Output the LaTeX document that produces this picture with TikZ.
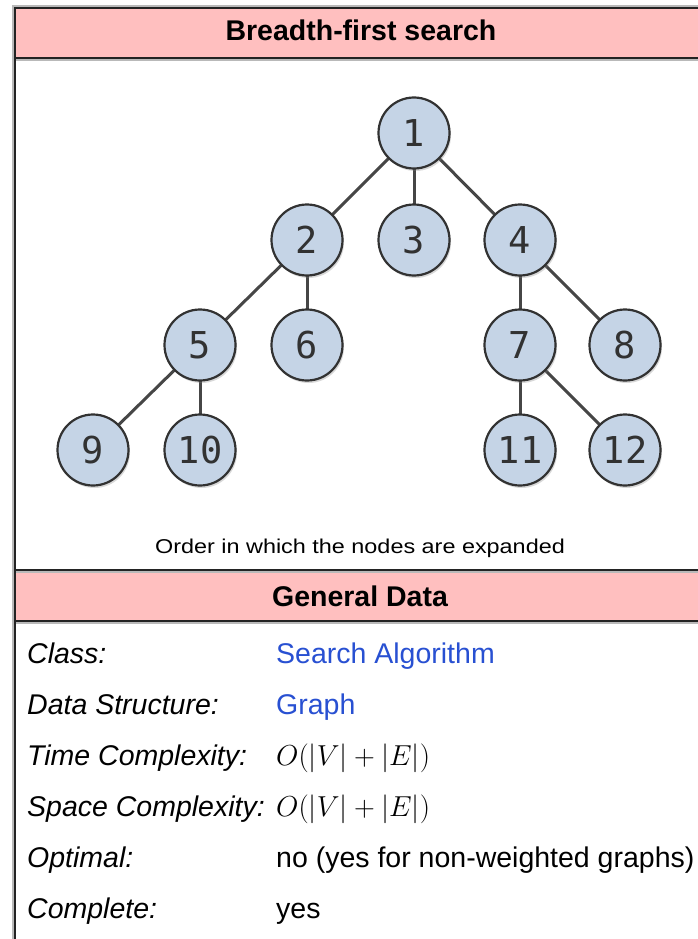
\documentclass[tikz,border=0pt]{standalone}
\usepackage{fontspec}
\setmainfont{Liberation Sans}
\newfontfamily\monof{DejaVu Sans Mono}
\usetikzlibrary{shadows}
\definecolor{hdrpink}{RGB}{255,191,191}
\definecolor{nodefill}{RGB}{197,212,230}
\definecolor{nodeline}{RGB}{50,50,50}
\definecolor{edgecol}{RGB}{70,70,70}
\definecolor{linkblue}{RGB}{40,80,210}
\definecolor{framecol}{RGB}{35,35,35}
\definecolor{halo}{RGB}{185,185,185}
\pgfdeclarelayer{back}
\pgfdeclarelayer{bg}
\pgfsetlayers{back,bg,main}
\newcommand{\bigO}{\scalebox{1.16}{\fontsize{24.88}{30}\selectfont$O(|V|+|E|)$}}
\begin{document}
\begin{tikzpicture}[x=1pt,y=-1pt,
  tnode/.style={circle, draw=nodeline, line width=2.2pt, fill=nodefill,
    minimum size=71pt, inner sep=0pt,
    font=\monof\fontsize{37}{40}\selectfont, text=nodeline,
    drop shadow={opacity=0.3, shadow xshift=1.5pt, shadow yshift=-2.5pt}},
  tedge/.style={draw=edgecol, line width=3pt},
  frameln/.style={draw=framecol, line width=1.8pt},
  haloln/.style={draw=halo, line width=4.5pt},
  hdr/.style={font=\bfseries\fontsize{28.5}{34}\selectfont, anchor=base, inner sep=0pt},
  lbl/.style={font=\itshape\fontsize{28.5}{34}\selectfont, anchor=base west, inner sep=0pt},
  val/.style={font=\fontsize{28.5}{34}\selectfont, anchor=base west, inner sep=0pt},
  capt/.style={font=\fontsize{20}{24}\selectfont, anchor=base, inner sep=0pt},
]
\useasboundingbox (0,0) rectangle (698,939);
\begin{pgfonlayer}{back}
\fill[white] (0,0) rectangle (698,939);
% header bands
\fill[hdrpink] (15,8) rectangle (698,58);
\fill[hdrpink] (15,570) rectangle (698,621);
% frame halo and lines
\draw[haloln] (14,939) -- (14,7) -- (698,7);
\draw[haloln] (15,59) -- (698,59);
\draw[haloln] (15,571) -- (698,571);
\draw[haloln] (15,622) -- (698,622);
\draw[frameln] (15,939) -- (15,8) -- (698,8);
\draw[frameln] (15,58) -- (698,58);
\draw[frameln] (15,570) -- (698,570);
\draw[frameln] (15,621) -- (698,621);
\end{pgfonlayer}

% tree nodes
\node[tnode] (n1) at (414,133) {1};
\node[tnode] (n2) at (307,240) {2};
\node[tnode] (n3) at (414,240) {3};
\node[tnode] (n4) at (520,240) {4};
\node[tnode] (n5) at (200,345) {5};
\node[tnode] (n6) at (307,345) {6};
\node[tnode] (n7) at (520,345) {7};
\node[tnode] (n8) at (625,345) {8};
\node[tnode] (n9) at (93,450) {9};
\node[tnode] (n10) at (200,450) {10};
\node[tnode] (n11) at (520,450) {11};
\node[tnode] (n12) at (625,450) {12};

\begin{pgfonlayer}{bg}
\draw[tedge] (n1.center) -- (n2.center);
\draw[tedge] (n1.center) -- (n3.center);
\draw[tedge] (n1.center) -- (n4.center);
\draw[tedge] (n2.center) -- (n5.center);
\draw[tedge] (n2.center) -- (n6.center);
\draw[tedge] (n4.center) -- (n7.center);
\draw[tedge] (n4.center) -- (n8.center);
\draw[tedge] (n5.center) -- (n9.center);
\draw[tedge] (n5.center) -- (n10.center);
\draw[tedge] (n7.center) -- (n11.center);
\draw[tedge] (n7.center) -- (n12.center);
\end{pgfonlayer}

% texts
\node[hdr] (title) at (361,41) {Breadth-first search};
\node[capt] (caption) at (360,553) {\scalebox{1.17}[1]{Order in which the nodes are expanded}};
\node[hdr] (gdata) at (360,606) {General Data};

\node[lbl] (l1) at (27,663) {Class:};
\node[val, text=linkblue] (v1) at (276,663) {Search Algorithm};
\node[lbl] (l2) at (27,714) {Data Structure:};
\node[val, text=linkblue] (v2) at (276,714) {Graph};
\node[lbl] (l3) at (27,765) {Time Complexity:};
\node[val] (v3) at (276,765) {\bigO};
\node[lbl] (l4) at (27,816) {Space Complexity:};
\node[val] (v4) at (276,816) {\bigO};
\node[lbl] (l5) at (27,867) {Optimal:};
\node[val] (v5) at (276,867) {no (yes for non-weighted graphs)};
\node[lbl] (l6) at (27,918) {Complete:};
\node[val] (v6) at (276,918) {yes};
\end{tikzpicture}
\end{document}
